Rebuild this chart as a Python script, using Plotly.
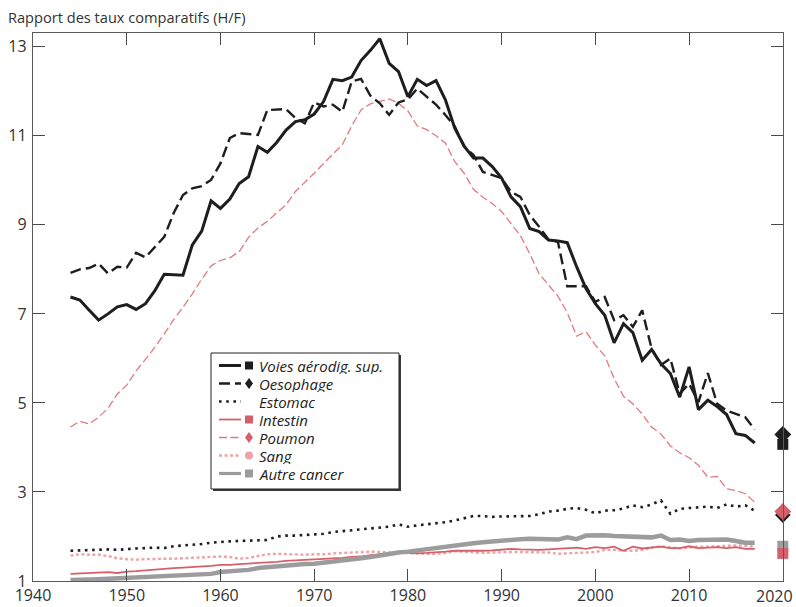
import plotly.graph_objects as go

# ---- data : rapport des taux comparatifs hommes / femmes, 1944-2017 ----
annees = list(range(1944, 2018))

voies_aerodig = [
    7.38, 7.31, 7.08, 6.86, 7.00, 7.16, 7.21, 7.10, 7.23, 7.52,
    7.89, 7.88, 7.87, 8.55, 8.86, 9.54, 9.37, 9.58, 9.93, 10.08,
    10.76, 10.63, 10.85, 11.13, 11.32, 11.36, 11.49, 11.77, 12.27, 12.24,
    12.32, 12.69, 12.92, 13.18, 12.63, 12.44, 11.88, 12.27, 12.13, 12.24,
    11.81, 11.17, 10.77, 10.50, 10.50, 10.31, 10.05, 9.63, 9.41, 8.92,
    8.85, 8.66, 8.64, 8.60, 8.06, 7.57, 7.23, 6.97, 6.35, 6.78,
    6.58, 5.96, 6.20, 5.88, 5.66, 5.13, 5.81, 4.85, 5.06, 4.92,
    4.74, 4.31, 4.27, 4.10,
]
oesophage = [
    7.92, 8.00, 8.03, 8.13, 7.91, 8.06, 8.04, 8.37, 8.27, 8.51,
    8.73, 9.26, 9.67, 9.82, 9.87, 10.01, 10.38, 10.95, 11.06, 11.04,
    11.02, 11.58, 11.59, 11.60, 11.40, 11.28, 11.75, 11.66, 11.70, 11.54,
    12.22, 12.28, 11.90, 11.73, 11.47, 11.75, 11.82, 12.06, 11.88, 11.70,
    11.47, 11.21, 10.76, 10.57, 10.19, 10.12, 10.05, 9.74, 9.63, 9.22,
    8.96, 8.67, 8.62, 7.62, 7.62, 7.62, 7.27, 7.38, 6.86, 6.97,
    6.71, 7.08, 6.22, 5.85, 6.00, 5.21, 5.43, 5.02, 5.67, 4.98,
    4.83, 4.76, 4.68, 4.40,
]
estomac = [
    1.68, 1.69, 1.70, 1.70, 1.71, 1.70, 1.72, 1.73, 1.74, 1.75,
    1.74, 1.78, 1.80, 1.81, 1.83, 1.86, 1.88, 1.89, 1.90, 1.91,
    1.92, 1.92, 2.00, 2.02, 2.02, 2.03, 2.04, 2.06, 2.10, 2.12,
    2.15, 2.17, 2.18, 2.20, 2.22, 2.27, 2.22, 2.25, 2.27, 2.30,
    2.32, 2.36, 2.41, 2.46, 2.46, 2.44, 2.45, 2.45, 2.46, 2.46,
    2.50, 2.56, 2.58, 2.62, 2.64, 2.60, 2.52, 2.58, 2.59, 2.63,
    2.70, 2.66, 2.72, 2.81, 2.51, 2.62, 2.64, 2.66, 2.67, 2.64,
    2.72, 2.67, 2.70, 2.58,
]
intestin = [
    1.16, 1.17, 1.18, 1.18, 1.20, 1.18, 1.21, 1.22, 1.24, 1.25,
    1.27, 1.29, 1.30, 1.31, 1.32, 1.34, 1.36, 1.36, 1.38, 1.39,
    1.41, 1.42, 1.43, 1.45, 1.46, 1.48, 1.49, 1.50, 1.51, 1.52,
    1.54, 1.55, 1.58, 1.60, 1.62, 1.63, 1.63, 1.62, 1.63, 1.64,
    1.66, 1.68, 1.68, 1.67, 1.68, 1.69, 1.70, 1.72, 1.71, 1.70,
    1.70, 1.71, 1.72, 1.73, 1.75, 1.72, 1.76, 1.74, 1.77, 1.68,
    1.77, 1.73, 1.75, 1.77, 1.74, 1.74, 1.78, 1.74, 1.75, 1.76,
    1.74, 1.76, 1.72, 1.72,
]
poumon = [
    4.46, 4.59, 4.53, 4.68, 4.88, 5.20, 5.40, 5.72, 5.98, 6.25,
    6.55, 6.87, 7.15, 7.45, 7.78, 8.08, 8.20, 8.26, 8.40, 8.72,
    8.93, 9.08, 9.27, 9.45, 9.75, 9.95, 10.16, 10.38, 10.58, 10.80,
    11.22, 11.58, 11.72, 11.77, 11.83, 11.73, 11.56, 11.22, 11.14, 11.00,
    10.84, 10.42, 10.16, 9.80, 9.62, 9.48, 9.30, 9.03, 8.76, 8.35,
    7.90, 7.65, 7.40, 7.03, 6.50, 6.60, 6.30, 6.06, 5.55, 5.15,
    4.98, 4.75, 4.46, 4.30, 4.04, 3.88, 3.77, 3.60, 3.33, 3.35,
    3.07, 3.03, 2.96, 2.77,
]
sang = [
    1.57, 1.60, 1.59, 1.59, 1.56, 1.51, 1.49, 1.48, 1.49, 1.50,
    1.50, 1.50, 1.51, 1.51, 1.52, 1.53, 1.55, 1.54, 1.50, 1.52,
    1.56, 1.60, 1.61, 1.60, 1.59, 1.59, 1.60, 1.60, 1.62, 1.63,
    1.64, 1.66, 1.66, 1.65, 1.64, 1.63, 1.62, 1.61, 1.61, 1.61,
    1.63, 1.67, 1.66, 1.64, 1.63, 1.64, 1.65, 1.65, 1.65, 1.65,
    1.65, 1.64, 1.61, 1.62, 1.64, 1.65, 1.65, 1.70, 1.70, 1.68,
    1.68, 1.70, 1.75, 1.78, 1.76, 1.73, 1.75, 1.77, 1.77, 1.78,
    1.80, 1.80, 1.79, 1.77,
]
autre_cancer = [
    1.02, 1.02, 1.03, 1.04, 1.05, 1.06, 1.07, 1.08, 1.08, 1.09,
    1.10, 1.11, 1.12, 1.13, 1.13, 1.16, 1.20, 1.21, 1.23, 1.25,
    1.29, 1.31, 1.33, 1.36, 1.37, 1.38, 1.39, 1.41, 1.43, 1.45,
    1.48, 1.51, 1.54, 1.58, 1.61, 1.64, 1.66, 1.69, 1.72, 1.75,
    1.78, 1.80, 1.83, 1.85, 1.87, 1.89, 1.92, 1.93, 1.94, 1.95,
    1.95, 1.94, 1.93, 1.98, 1.94, 2.02, 2.03, 2.03, 2.01, 2.00,
    1.98, 1.99, 1.98, 2.02, 1.92, 1.93, 1.90, 1.92, 1.92, 1.91,
    1.93, 1.90, 1.86, 1.86,
]

# Single reference values drawn on the right-hand axis
annee_repere = 2020
repere_noms = ["Autre cancer", "Sang", "Intestin", "Estomac", "Poumon", "Voies aérodig. sup.", "Oesophage"]
repere_valeurs = [1.78, 1.65, 1.62, 2.48, 2.56, 4.07, 4.29]

x_ticks = [1940, 1950, 1960, 1970, 1980, 1990, 2000, 2010, 2020]
x_tick_labels = ["1940", "1950", "1960", "1970", "1980", "1990", "2000", "2010", "2020"]
y_ticks = [1, 3, 5, 7, 9, 11, 13]

# ---- styles ----
NOIR = "#1e1e1e"
ROUGE = "#d6606a"
ROUGE_CLAIR = "#e07a7c"
ROSE = "#eda4a4"
GRIS = "#9c9c9e"
FONT = "Open Sans"
TICK_FONT = dict(family=FONT, size=16, color="#333333")

series = [
    # name, values, colour, width, dash, legend symbol
    ("Sang", sang, ROSE, 2.4, "3px,2.5px", "circle"),
    ("Intestin", intestin, ROUGE, 1.8, "solid", "square"),
    ("Autre cancer", autre_cancer, GRIS, 4.5, "solid", "square"),
    ("Estomac", estomac, NOIR, 2.6, "2.6px,4.6px", None),
    ("Poumon", poumon, ROUGE_CLAIR, 1.3, "8px,3.5px", "diamond"),
    ("Oesophage", oesophage, NOIR, 2.4, "11px,5px", "diamond"),
    ("Voies aérodig. sup.", voies_aerodig, NOIR, 3.0, "solid", "square"),
]
style = {s[0]: s for s in series}

repere_symboles = {
    "Autre cancer": ("square", GRIS, 11),
    "Sang": ("circle", ROSE, 9),
    "Intestin": ("square", ROUGE, 11),
    "Estomac": ("diamond", NOIR, 12),
    "Poumon": ("diamond", ROUGE, 13),
    "Voies aérodig. sup.": ("square", NOIR, 11),
    "Oesophage": ("diamond", NOIR, 13),
}

fig = go.Figure()
for name, values, colour, width, dash, _ in series:
    fig.add_trace(go.Scatter(
        x=annees, y=values, mode="lines", name=name,
        line=dict(color=colour, width=width, dash=dash),
        showlegend=False, hoverinfo="x+y+name",
    ))

for nom, val in zip(repere_noms, repere_valeurs):
    sym, col, size = repere_symboles[nom]
    fig.add_trace(go.Scatter(
        x=[annee_repere], y=[val], mode="markers", name=nom,
        marker=dict(symbol=sym, color=col, size=size, line=dict(width=0)),
        cliponaxis=False, showlegend=False,
    ))

# ---- layout geometry (pixels) ----
W, H = 796, 607
ML, MR, MT, MB = 33, 13, 33, 26
PW, PH = W - ML - MR, H - MT - MB


def xp(px):
    return (px - ML) / PW


def yp(py):
    return (H - MB - py) / PH


axis_common = dict(
    showgrid=False, zeroline=False, showline=True, mirror="ticks",
    linecolor="#5a5a5a", linewidth=1.3, automargin=False,
    ticks="inside", ticklen=12, tickwidth=1.3, tickcolor="#4a4a4a",
    tickfont=TICK_FONT, ticklabeloverflow="allow",
)

# the last x label sits flush with the right edge of the page, so it is
# written as an annotation instead of a tick label
fig.update_layout(
    width=W, height=H,
    margin=dict(l=ML, r=MR, t=MT, b=MB),
    paper_bgcolor="white", plot_bgcolor="white",
    showlegend=False,
    xaxis=dict(range=[1940, 2020.02], tickvals=x_ticks,
               ticktext=x_tick_labels[:-1] + [""], ticklabelstandoff=0, **axis_common),
    yaxis=dict(range=[1, 13.31], tickvals=y_ticks, ticklabelstandoff=2, **axis_common),
    font=dict(family=FONT, color="#333333"),
)
fig.add_annotation(
    xref="paper", yref="paper", x=xp(W - 1), y=yp(596),
    xanchor="right", yanchor="middle", showarrow=False,
    text=x_tick_labels[-1], font=TICK_FONT,
)

# Axis title in the top-left corner
fig.add_annotation(
    xref="paper", yref="paper", x=xp(6), y=yp(17),
    xanchor="left", yanchor="middle", showarrow=False,
    text="Rapport des taux comparatifs (H/F)",
    font=dict(family=FONT, size=14.6, color="#333333"),
)

# ---- hand-built legend box ----
box_l, box_t, box_r, box_b = 211, 353, 399, 489
fig.add_shape(type="rect", xref="paper", yref="paper",
              x0=xp(box_l + 2), x1=xp(box_r + 2), y0=yp(box_b + 2), y1=yp(box_t + 2),
              line=dict(width=0), fillcolor="#3a3a3a", layer="above")
fig.add_shape(type="rect", xref="paper", yref="paper",
              x0=xp(box_l), x1=xp(box_r), y0=yp(box_b), y1=yp(box_t),
              line=dict(color="#222222", width=1), fillcolor="white", layer="above")

legend_order = ["Voies aérodig. sup.", "Oesophage", "Estomac", "Intestin",
                "Poumon", "Sang", "Autre cancer"]
row0, row_step = 365.5, 18.0
line_x0, line_x1, mark_x, text_x = 219, 241, 249, 257
for i, nom in enumerate(legend_order):
    _, _, colour, width, dash, sym = style[nom]
    cy = row0 + i * row_step
    fig.add_shape(type="line", xref="paper", yref="paper",
                  x0=xp(line_x0), x1=xp(line_x1), y0=yp(cy), y1=yp(cy),
                  line=dict(color=colour, width=min(width, 3.2), dash=dash), layer="above")
    mcol = repere_symboles[nom][1] if sym else None
    if sym == "square":
        fig.add_shape(type="rect", xref="paper", yref="paper",
                      x0=xp(mark_x - 4), x1=xp(mark_x + 4), y0=yp(cy + 4), y1=yp(cy - 4),
                      line=dict(width=0), fillcolor=mcol, layer="above")
    elif sym == "diamond":
        path = "M {} {} L {} {} L {} {} L {} {} Z".format(
            xp(mark_x), yp(cy - 5.5), xp(mark_x + 4), yp(cy),
            xp(mark_x), yp(cy + 5.5), xp(mark_x - 4), yp(cy))
        fig.add_shape(type="path", xref="paper", yref="paper", path=path,
                      line=dict(width=0), fillcolor=mcol, layer="above")
    elif sym == "circle":
        fig.add_shape(type="circle", xref="paper", yref="paper",
                      x0=xp(mark_x - 4), x1=xp(mark_x + 4), y0=yp(cy + 4), y1=yp(cy - 4),
                      line=dict(width=0), fillcolor=mcol, layer="above")
    fig.add_annotation(
        xref="paper", yref="paper", x=xp(text_x), y=yp(cy),
        xanchor="left", yanchor="middle", showarrow=False,
        text="<i>" + nom + "</i>",
        font=dict(family=FONT, size=15, color="#222222"),
        height=17,
    )

fig.write_html("out.html")
